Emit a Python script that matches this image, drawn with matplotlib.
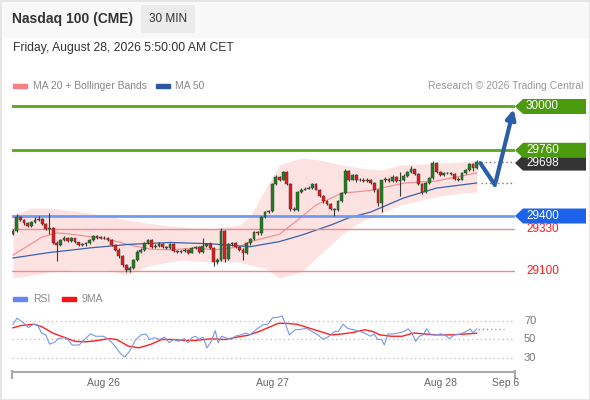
import numpy as np
import matplotlib.pyplot as plt
from matplotlib.patches import Rectangle, Polygon, FancyArrowPatch
from matplotlib.lines import Line2D
import matplotlib.transforms as mtransforms

plt.rcParams['font.family'] = ['Liberation Sans', 'DejaVu Sans']

W, H = 590, 400

# ---- 30 min candles (index 0..127), open = previous close ----
first_open = 29300
closes = [29320, 29395, 29378, 29360, 29345, 29365, 29380, 29385, 29355, 29330,
          29335, 29250, 29240, 29270, 29280, 29265, 29278, 29255, 29240, 29245,
          29250, 29270, 29290, 29280, 29282, 29278, 29270, 29240, 29215, 29180,
          29130, 29105, 29115, 29160, 29205, 29215, 29250, 29268, 29230, 29238,
          29245, 29232, 29225, 29245, 29210, 29202, 29210, 29212, 29200, 29225,
          29228, 29205, 29235, 29245, 29225, 29150, 29160, 29320, 29165, 29245,
          29250, 29230, 29215, 29200, 29250, 29275, 29310, 29305, 29395, 29420,
          29425, 29575, 29615, 29600, 29640, 29575, 29440, 29435, 29530, 29545,
          29550, 29555, 29575, 29545, 29510, 29480, 29465, 29440, 29435, 29480,
          29525, 29645, 29600, 29625, 29595, 29600, 29590, 29600, 29580, 29540,
          29470, 29595, 29605, 29590, 29615, 29590, 29595, 29620, 29640, 29655,
          29630, 29575, 29530, 29580, 29610, 29690, 29640, 29625, 29635, 29635,
          29630, 29605, 29600, 29635, 29650, 29685, 29665, 29698]
highs = [29330, 29410, 29402, 29382, 29368, 29372, 29392, 29398, 29390, 29360,
         29418, 29340, 29262, 29276, 29292, 29286, 29285, 29282, 29260, 29252,
         29256, 29276, 29298, 29296, 29290, 29288, 29284, 29274, 29246, 29222,
         29186, 29136, 29126, 29166, 29212, 29226, 29256, 29276, 29274, 29246,
         29256, 29250, 29238, 29252, 29250, 29216, 29216, 29226, 29218, 29230,
         29236, 29234, 29282, 29252, 29256, 29230, 29168, 29332, 29326, 29252,
         29260, 29256, 29236, 29222, 29256, 29282, 29318, 29316, 29402, 29426,
         29432, 29582, 29622, 29620, 29648, 29646, 29580, 29448, 29536, 29552,
         29558, 29562, 29582, 29580, 29550, 29514, 29486, 29470, 29446, 29486,
         29532, 29655, 29652, 29632, 29630, 29608, 29606, 29606, 29604, 29584,
         29546, 29600, 29614, 29610, 29622, 29620, 29640, 29628, 29648, 29672,
         29660, 29634, 29580, 29586, 29616, 29700, 29696, 29646, 29642, 29642,
         29640, 29636, 29612, 29640, 29656, 29690, 29690, 29705]
lows = [29295, 29315, 29372, 29352, 29338, 29340, 29360, 29374, 29350, 29322,
        29300, 29244, 29155, 29234, 29264, 29258, 29260, 29250, 29234, 29235,
        29238, 29245, 29265, 29274, 29274, 29272, 29264, 29234, 29208, 29172,
        29122, 29095, 29092, 29108, 29154, 29198, 29210, 29244, 29224, 29226,
        29232, 29226, 29218, 29220, 29204, 29196, 29198, 29204, 29194, 29195,
        29218, 29200, 29200, 29228, 29218, 29128, 29138, 29155, 29148, 29160,
        29238, 29224, 29208, 29160, 29192, 29242, 29270, 29296, 29298, 29390,
        29414, 29420, 29568, 29594, 29596, 29570, 29425, 29428, 29430, 29524,
        29540, 29546, 29550, 29540, 29504, 29474, 29458, 29434, 29400, 29430,
        29476, 29520, 29594, 29596, 29588, 29590, 29584, 29586, 29574, 29534,
        29455, 29420, 29588, 29584, 29586, 29584, 29508, 29590, 29614, 29634,
        29624, 29568, 29522, 29525, 29574, 29604, 29634, 29618, 29620, 29628,
        29624, 29598, 29594, 29596, 29630, 29645, 29645, 29660]
opens = [first_open] + closes[:-1]

# ---- indicators (candle index, value) ----
ma20_x = [0, 8, 12, 14, 22, 27, 32, 38, 43, 51, 55, 62, 65, 73, 79, 83, 90, 98, 107, 116, 127]
ma20 = [29186, 29285, 29307, 29305, 29285, 29268, 29241, 29218, 29215, 29225, 29214,
        29230, 29260, 29300, 29395, 29460, 29525, 29540, 29580, 29592, 29636]
ma50_x = [0, 10, 21, 32, 43, 54, 65, 73, 79, 87, 92, 98, 107, 116, 127]
ma50 = [29170, 29200, 29225, 29245, 29255, 29248, 29232, 29260, 29295, 29350, 29390,
        29422, 29499, 29553, 29581]
bb_x = [0, 5, 10, 16, 21, 26, 31, 37, 46, 54, 62, 65, 69, 73, 79, 84, 90, 95, 101, 106,
        112, 117, 123, 127]
bb_up = [29405, 29444, 29444, 29430, 29416, 29400, 29380, 29360, 29340, 29330, 29351,
         29400, 29542, 29680, 29718, 29707, 29680, 29663, 29652, 29680, 29685, 29690,
         29696, 29705]
bb_lo = [29060, 29075, 29093, 29104, 29104, 29104, 29077, 29126, 29159, 29148, 29148,
         29130, 29115, 29060, 29093, 29186, 29296, 29367, 29416, 29460, 29488, 29510,
         29526, 29531]

# levels
res_levels = [30000, 29760]
sup_levels = [29400]
red_levels = [29330, 29100]
last_price = 29698

# forecast path (index, price)
fc_x = [128, 132, 137.3]
fc_y = [29690, 29570, 30000]

# ---- RSI panel ----
rsi_x = [0.0, 1.1, 2.6, 4.2, 5.7, 6.7, 7.8, 9.0, 10.0, 11.4, 12.4, 13.9, 15.0, 16.2, 18.1,
         19.6, 21.2, 22.7, 24.8, 26.3, 27.9, 29.4, 30.6, 32.0, 33.5, 35.1, 36.4, 37.4,
         38.7, 40.2, 41.5, 42.8, 44.0, 45.4, 46.9, 47.9, 49.0, 50.0, 51.0, 52.1, 53.1,
         54.1, 55.4, 56.2, 57.2, 58.2, 59.8, 60.8, 62.4, 63.9, 64.9, 66.5, 68.5, 69.8,
         71.1, 72.7, 73.7, 74.7, 75.7, 77.3, 78.8, 80.4, 81.9, 83.5, 85.0, 86.6, 88.1,
         89.1, 90.4, 91.7, 93.3, 94.8, 96.3, 97.9, 98.9, 99.9, 101.0, 101.7, 102.7,
         104.1, 105.6, 107.2, 108.2, 109.2, 110.3, 111.3, 112.3, 113.3, 114.4, 115.9,
         117.2, 118.2, 119.5, 121.0, 122.6, 124.2, 125.2, 126.0, 127.0]
rsi = [66.5, 73, 69, 63, 66.5, 66, 57, 55, 45, 47, 51, 52, 50, 44, 44,
       50, 56, 53.5, 53.5, 50, 43, 35, 31, 37.7, 49, 55, 56, 50,
       52, 50, 52.5, 46.5, 50, 48, 51, 46.5, 52, 53.5, 50, 52.5, 41,
       46.5, 59.5, 46.5, 53.5, 52, 50, 53.5, 55, 57, 55, 60.5, 66, 66.5,
       73.5, 74, 75.6, 66, 55, 60.5, 61, 62, 58.8, 55, 50, 53.5, 58.8,
       58.8, 66.5, 62, 60.5, 58.8, 57, 53.5, 56, 50, 50, 44, 56,
       56, 57, 58.8, 61.5, 57, 48, 53.5, 55, 61.5, 55, 55,
       56, 55, 51, 55, 56, 58.8, 61.5, 57, 61.5]
ma9_x = [0, 2.1, 5.7, 7.8, 10.9, 13.9, 17.0, 20.1, 23.2, 26.3, 28.4, 31.5, 34.5, 37.6,
         40.7, 43.8, 46.9, 50.0, 54.1, 58.2, 61.3, 64.4, 67.5, 70.6, 72.7, 74.7, 77.8,
         80.9, 84.0, 87.1, 90.2, 93.3, 96.3, 98.4, 100.5, 103.6, 106.6, 109.7, 112.8,
         115.9, 120.0, 124.2, 127.0]
ma9 = [62.6, 65, 66.5, 64, 57, 52.5, 48, 47.5, 49, 51, 50, 43, 41, 44.5,
       50, 50, 49, 49, 50.7, 50, 52.5, 54.6, 58.8, 64, 67.5, 67.5, 66.5,
       62.6, 58.8, 55, 56, 57.7, 60.5, 58.8, 55, 53.5, 53.5, 57, 56,
       55, 55, 56, 56.7]
rsi_levels = [70, 50, 30]

tick_pos = [24.9, 71, 117, 134.8]
tick_labels = ['Aug 26', 'Aug 27', 'Aug 28', 'Sep 6']


def fx(px):
    return px / W


def fy(py):
    return 1 - py / H


fig = plt.figure(figsize=(W / 100, H / 100), dpi=100)
fig.patch.set_facecolor('white')

# header strip + frame
fig.add_artist(Rectangle((0, fy(37)), 1, 37 / H, transform=fig.transFigure,
                         color='#f8f8f8', zorder=0))
fig.add_artist(Rectangle((0, 0), 1, 1, transform=fig.transFigure, fill=False,
                         ec='#e4e4e4', lw=2))
fig.text(fx(12), fy(19), 'Nasdaq 100 (CME)', fontsize=10, weight='bold', color='#333333',
         va='center')
fig.text(fx(149), fy(19), '30 MIN', fontsize=8.5, color='#333333', va='center',
         bbox=dict(boxstyle='square,pad=0.65', fc='#ebebeb', ec='none'))
fig.text(fx(13), fy(48), 'Friday, August 28, 2026 5:50:00 AM CET', fontsize=8.7,
         color='#333333', va='center')

# legend of the price panel
fig.add_artist(Rectangle((fx(13), fy(88)), fx(14), 4 / H, transform=fig.transFigure,
                         color='#f88080'))
fig.text(fx(33), fy(86), 'MA 20 + Bollinger Bands', fontsize=7.5, color='#888888', va='center')
fig.add_artist(Rectangle((fx(156), fy(88)), fx(14), 4 / H, transform=fig.transFigure,
                         color='#2b56a0'))
fig.text(fx(175), fy(86), 'MA 50', fontsize=7.5, color='#888888', va='center')
fig.text(fx(583), fy(86), 'Research \u00a9 2026 Trading Central', fontsize=7.5,
         color='#999999', va='center', ha='right')

# ---------------- price panel ----------------
ax = fig.add_axes([fx(12), fy(285), fx(503), 190 / H])
ax.set_xlim(-0.27, 137.5)
ax.set_ylim(29022, 30063)
ax.axis('off')

ax.fill_between(bb_x, bb_lo, bb_up, color='#fde2e2', lw=0, zorder=1)
ax.plot(ma20_x, ma20, color='#f59090', lw=0.9, zorder=2)
ax.plot(ma50_x, ma50, color='#3a62a8', lw=0.9, zorder=2)

# key levels
for lv in res_levels:
    ax.axhline(lv, color='#5aa51a', lw=2, zorder=2)
for lv in sup_levels:
    ax.axhline(lv, color='#6f9cf0', lw=2, zorder=2)
for lv in red_levels:
    ax.axhline(lv, color='#f28a8a', lw=1, zorder=2)

# candles
for i in range(len(closes)):
    o, c = opens[i], closes[i]
    col = '#1f7f1f' if c >= o else '#e41b1b'
    ax.vlines(i, lows[i], highs[i], color='#3a3a3a', lw=0.8, zorder=3)
    ax.add_patch(Rectangle((i - 0.38, min(o, c)), 0.76, max(abs(c - o), 3),
                           facecolor=col, edgecolor='#333333', lw=0.3, zorder=4))

# dotted extensions for last price and MA50
n = len(closes)
ax.hlines([last_price, ma50[-1]], n + 0.3, 137.5, colors='#777777',
          linestyles=(0, (1, 2)), lw=1, zorder=2)

# forecast arrow
ax.plot(fc_x[:2], fc_y[:2], color='#2b5ea8', lw=3, solid_capstyle='round', zorder=6,
        clip_on=False)
arr = FancyArrowPatch((fc_x[1], fc_y[1]), (fc_x[2], fc_y[2]), arrowstyle='-|>',
                      mutation_scale=14, lw=3, color='#2b5ea8', zorder=6,
                      capstyle='round', clip_on=False)
ax.add_patch(arr)

# right hand labels
trans = mtransforms.blended_transform_factory(fig.transFigure, ax.transData)
hh = 7.5 * 5.48


def tag(y, txt, col, yc=None):
    if yc is None:
        yc = y
    pts = [(fx(515), yc), (fx(523), yc + hh), (fx(586), yc + hh),
           (fx(586), yc - hh), (fx(523), yc - hh)]
    ax.add_patch(Polygon(pts, closed=True, transform=trans, fc=col, ec='none',
                         clip_on=False, zorder=7))
    ax.text(fx(526), yc, txt, transform=trans, color='white', fontsize=8.5,
            va='center', ha='left', zorder=8, clip_on=False)


tag(last_price, str(last_price), '#333333', yc=last_price - 8)
for lv in res_levels:
    tag(lv, str(lv), '#4c9a0e')
for lv in sup_levels:
    tag(lv, str(lv), '#1c63ea')
for lv in red_levels:
    ax.text(fx(526), lv, str(lv), transform=trans, color='#ff1a1a', fontsize=8.5,
            va='center', ha='left', clip_on=False)

# ---------------- RSI panel ----------------
fig.add_artist(Rectangle((fx(13), fy(301)), fx(14), 4 / H, transform=fig.transFigure,
                         color='#6688ee'))
fig.text(fx(33), fy(299), 'RSI', fontsize=7.5, color='#888888', va='center')
fig.add_artist(Rectangle((fx(62), fy(301)), fx(14), 4 / H, transform=fig.transFigure,
                         color='#ff1010'))
fig.text(fx(82), fy(299), '9MA', fontsize=7.5, color='#888888', va='center')

ax2 = fig.add_axes([fx(12), fy(370), fx(503), 60 / H])
ax2.set_xlim(-0.27, 137.5)
ax2.set_ylim(17, 81.9)
ax2.axis('off')
trans2 = mtransforms.blended_transform_factory(fig.transFigure, ax2.transData)
for lv in rsi_levels:
    ax2.axhline(lv, color='#bbbbbb', ls=(0, (1, 2.5)), lw=0.9)
    ax2.text(fx(524), lv, str(lv), transform=trans2, fontsize=8, color='#777777',
             va='center', ha='left')
ax2.plot(ma9_x, ma9, color='#ff2020', lw=1, zorder=3)
ax2.plot(rsi_x, rsi, color='#7a96ea', lw=0.8, zorder=4)
ax2.hlines(rsi[-1], rsi_x[-1] + 0.5, 134.5, colors='#7a96ea', linestyles=(0, (1, 2)),
           lw=1)

# x axis
ax_col = '#aaaaaa'
fig.add_artist(Line2D([fx(12), fx(515)], [fy(372), fy(372)], color=ax_col, lw=1.5))
fig.add_artist(Line2D([fx(12), fx(12)], [fy(371), fy(378)], color=ax_col, lw=1.5))
fig.add_artist(Line2D([fx(515), fx(515)], [fy(371), fy(378)], color=ax_col, lw=1.5))
transx = mtransforms.blended_transform_factory(ax2.transData, fig.transFigure)
for p, lab in zip(tick_pos, tick_labels):
    fig.text(p, fy(383), lab, transform=transx, fontsize=7.5, color='#666666',
             ha='center', va='center')

fig.savefig('out.png', dpi=100)
